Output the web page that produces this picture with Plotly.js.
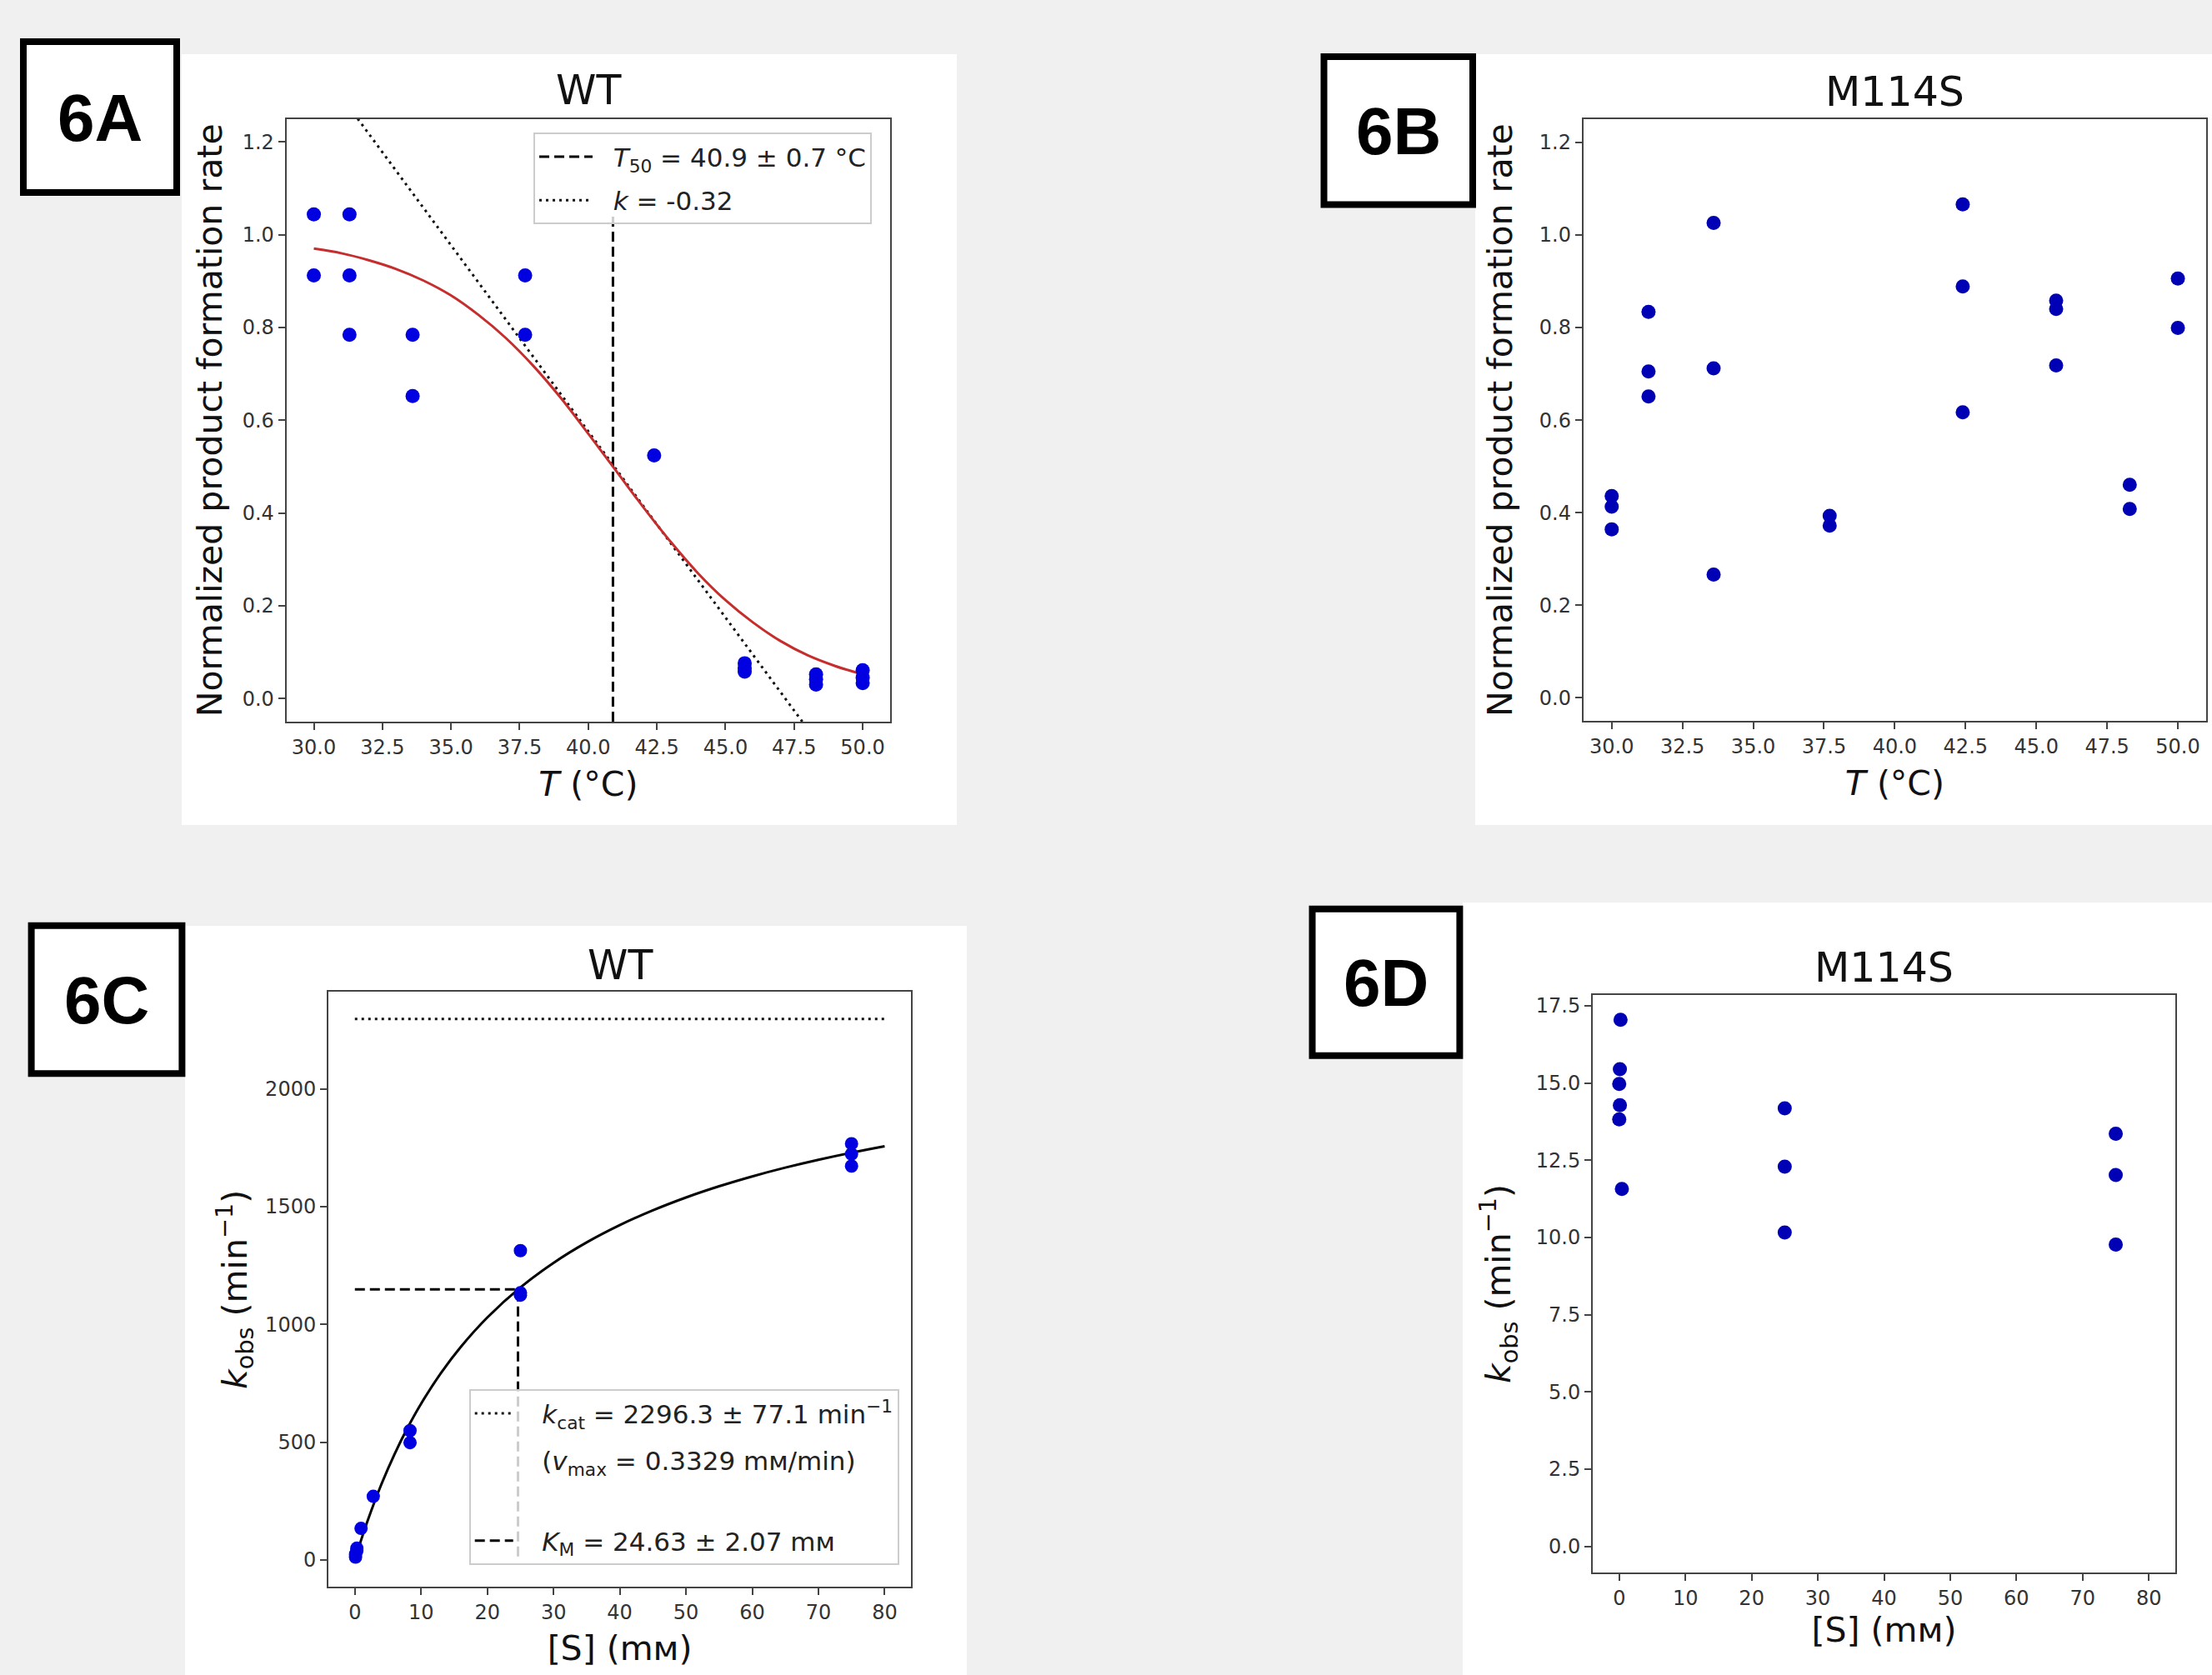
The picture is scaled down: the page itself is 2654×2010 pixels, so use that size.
<!DOCTYPE html>
<html>
<head>
<meta charset="utf-8">
<script src="https://cdn.plot.ly/plotly-3.0.1.min.js"></script>
<style>html,body{margin:0;padding:0;background:#f0f0f0;}#chart{width:2654px;height:2010px;}</style>
</head>
<body>
<div id="chart"></div>
<script>
// ---------------- DATA ----------------
// Panel 6A (WT) – temperature dependence
const tempA = [30, 30, 31.3, 31.3, 31.3, 33.6, 33.6, 37.7, 37.7, 42.4, 45.7, 45.7, 45.7, 48.3, 48.3, 48.3, 50, 50, 50];
const rateA = [1.044, 0.912, 1.044, 0.912, 0.784, 0.784, 0.652, 0.912, 0.784, 0.524, 0.076, 0.066, 0.058, 0.052, 0.041, 0.030, 0.061, 0.045, 0.033];
// fitted sigmoid curve
const fitT = [30, 31, 32, 33, 34, 35, 36, 37, 38, 39, 40, 41, 42, 43, 44, 45, 46, 47, 48, 49, 50];
const fitRate = [0.970, 0.960, 0.945, 0.926, 0.901, 0.869, 0.827, 0.777, 0.717, 0.648, 0.571, 0.492, 0.413, 0.338, 0.270, 0.212, 0.164, 0.124, 0.093, 0.070, 0.052];
// tangent (dotted) line at T50
const tangentT = [31.6, 47.8];
const tangentRate = [1.25, -0.05];
const T50 = 40.9;
const T50lineRate = [-0.05, 1.045];

// Panel 6B (M114S)
const tempB = [30, 30, 30, 31.3, 31.3, 31.3, 33.6, 33.6, 33.6, 37.7, 37.7, 42.4, 42.4, 42.4, 45.7, 45.7, 45.7, 48.3, 48.3, 50, 50];
const rateB = [0.436, 0.413, 0.364, 0.834, 0.705, 0.651, 1.026, 0.712, 0.266, 0.393, 0.372, 1.066, 0.889, 0.617, 0.858, 0.840, 0.718, 0.460, 0.408, 0.906, 0.799];

// Panel 6C (WT) – Michaelis–Menten
const substrateC = [0.1, 0.1, 0.3, 0.3, 0.93, 2.78, 8.33, 8.33, 25, 25, 25, 75, 75, 75];
const kobsC = [12, 25, 40, 50, 134, 270, 549, 498, 1313, 1134, 1124, 1767, 1723, 1672];
// fitted Michaelis–Menten curve
const mmS = [0, 1, 2, 4, 6, 8, 10, 13, 16, 20, 25, 30, 35, 40, 45, 50, 55, 60, 65, 70, 75, 80];
const mmK = [0, 89.6, 172.5, 320.8, 449.8, 563.0, 663.1, 793.3, 904.3, 1029.0, 1156.7, 1261.0, 1347.8, 1421.2, 1484.0, 1538.5, 1586.1, 1628.0, 1665.3, 1698.6, 1728.6, 1755.8];
const KCAT = 2296.3;
const KM = 24.63;
const kcatSpan = [0, 80];

// Panel 6D (M114S)
const substrateD = [0.2, 0.1, 0.0, 0.1, 0.0, 0.4, 25, 25, 25, 75, 75, 75];
const kobsD = [17.05, 15.45, 14.97, 14.28, 13.82, 11.57, 14.18, 12.29, 10.16, 13.36, 12.02, 9.77];

// Tick values
const tickT = [30, 32.5, 35, 37.5, 40, 42.5, 45, 47.5, 50];
const tickRate = [0, 0.2, 0.4, 0.6, 0.8, 1.0, 1.2];
const tickS = [0, 10, 20, 30, 40, 50, 60, 70, 80];
const tickKobsC = [0, 500, 1000, 1500, 2000];
const tickKobsD = [0, 2.5, 5, 7.5, 10, 12.5, 15, 17.5];

// Texts
const titleA = 'WT', titleB = 'M114S', titleC = 'WT', titleD = 'M114S';
const yTitleRate = 'Normalized product formation rate';
const xTitleT = '<i>T</i> (°C)';
const xTitleS = '[S] (mᴍ)';
const yTitleK = '<i>k</i><sub>obs</sub> (min<sup>−1</sup>)';
const padA = '\u00a0\u00a0';
const padC = '\u00a0\u00a0\u00a0';
const legT50 = padA + '<i>T</i><sub>50</sub> = 40.9 ± 0.7 °C';
const legK = padA + '<i>k</i> = -0.32';
const legKcat = padC + '<i>k</i><sub>cat</sub> = 2296.3 ± 77.1 min<sup>−1</sup>';
const legVmax = padC + '(<i>v</i><sub>max</sub> = 0.3329 mᴍ/min)<br>\u00a0';
const legKM = padC + '<i>K</i><sub>M</sub> = 24.63 ± 2.07 mᴍ';

// ---------------- LAYOUT HELPERS ----------------
const W = 2654, H = 2010;
const fx = v => v / W;
const fy = v => 1 - v / H;
const FONT = 'DejaVu Sans, Verdana, sans-serif';
const BLUE1 = '#0000e0', BLUE2 = '#0000b4';

function axisBase(extra) {
  return Object.assign({
    showline: true, mirror: true, linecolor: '#444', linewidth: 2,
    ticks: 'outside', ticklen: 8, tickwidth: 2, tickcolor: '#444',
    showgrid: false, zeroline: false,
    tickfont: {family: FONT, size: 24, color: '#333'},
    fixedrange: true
  }, extra);
}

const traces = [
  // Panel A
  {x: [T50, T50], y: T50lineRate, xaxis: 'x', yaxis: 'y', mode: 'lines', name: legT50,
   line: {color: 'black', width: 3, dash: '12px,6px'}, legend: 'legend', legendgroup: 'a1', showlegend: true},
  {x: tangentT, y: tangentRate, xaxis: 'x', yaxis: 'y', mode: 'lines', name: legK,
   line: {color: '#111', width: 3, dash: '3px,5px'}, legend: 'legend', legendgroup: 'a2', showlegend: true},
  {x: fitT, y: fitRate, xaxis: 'x', yaxis: 'y', mode: 'lines', line: {color: '#c62d2d', width: 3, shape: 'spline'}, showlegend: false},
  {x: tempA, y: rateA, xaxis: 'x', yaxis: 'y', mode: 'markers', marker: {color: BLUE1, size: 17}, showlegend: false},
  // Panel B
  {x: tempB, y: rateB, xaxis: 'x2', yaxis: 'y2', mode: 'markers', marker: {color: BLUE2, size: 17}, showlegend: false},
  // Panel C
  {x: kcatSpan, y: [KCAT, KCAT], xaxis: 'x3', yaxis: 'y3', mode: 'lines', name: legKcat,
   line: {color: '#111', width: 3, dash: '3px,5px'}, legend: 'legend2', legendgroup: 'c1', showlegend: true},
  {x: [null], y: [null], xaxis: 'x3', yaxis: 'y3', mode: 'lines', name: legVmax,
   line: {color: 'rgba(0,0,0,0)', width: 0}, legend: 'legend2', legendgroup: 'c2', showlegend: true, hoverinfo: 'skip'},
  {x: [0, KM, KM], y: [KCAT / 2, KCAT / 2, 0], xaxis: 'x3', yaxis: 'y3', mode: 'lines', name: legKM,
   line: {color: 'black', width: 3, dash: '12px,6px'}, legend: 'legend2', legendgroup: 'c3', showlegend: true},
  {x: mmS, y: mmK, xaxis: 'x3', yaxis: 'y3', mode: 'lines', line: {color: 'black', width: 3, shape: 'spline'}, showlegend: false},
  {x: substrateC, y: kobsC, xaxis: 'x3', yaxis: 'y3', mode: 'markers', marker: {color: BLUE1, size: 16}, showlegend: false},
  // Panel D
  {x: substrateD, y: kobsD, xaxis: 'x4', yaxis: 'y4', mode: 'markers', marker: {color: BLUE2, size: 17}, showlegend: false}
];

const axisTitleFont = {family: FONT, size: 41, color: '#111'};

const layout = {
  width: W, height: H,
  margin: {l: 0, r: 0, t: 0, b: 0},
  paper_bgcolor: '#f0f0f0',
  plot_bgcolor: 'white',
  font: {family: FONT},
  xaxis: axisBase({domain: [fx(343.6), fx(1068)], anchor: 'y', range: [29, 51], tickmode: 'array', tickvals: tickT,
    ticktext: tickT.map(v => v.toFixed(1)), title: {text: xTitleT, font: axisTitleFont, standoff: 17}}),
  yaxis: axisBase({domain: [fy(866), fy(142.5)], anchor: 'x', range: [-0.05, 1.25], tickmode: 'array', tickvals: tickRate,
    ticktext: tickRate.map(v => v.toFixed(1)), title: {text: yTitleRate, font: axisTitleFont, standoff: 11}}),
  xaxis2: axisBase({domain: [fx(1899.8), fx(2647)], anchor: 'y2', range: [29, 51], tickmode: 'array', tickvals: tickT,
    ticktext: tickT.map(v => v.toFixed(1)), title: {text: xTitleT, font: axisTitleFont, standoff: 17}}),
  yaxis2: axisBase({domain: [fy(865), fy(143.2)], anchor: 'x2', range: [-0.05, 1.25], tickmode: 'array', tickvals: tickRate,
    ticktext: tickRate.map(v => v.toFixed(1)), title: {text: yTitleRate, font: axisTitleFont, standoff: 19}}),
  xaxis3: axisBase({domain: [fx(394), fx(1093.2)], anchor: 'y3', range: [-4, 84], tickmode: 'array', tickvals: tickS,
    ticktext: tickS.map(String), title: {text: xTitleS, font: axisTitleFont, standoff: 15}}),
  yaxis3: axisBase({domain: [fy(1904.4), fy(1190.3)], anchor: 'x3', range: [-114.8, 2411.1], tickmode: 'array', tickvals: tickKobsC,
    ticktext: tickKobsC.map(String), title: {text: yTitleK, font: axisTitleFont, standoff: 9}}),
  xaxis4: axisBase({domain: [fx(1911), fx(2610)], anchor: 'y4', range: [-4, 84], tickmode: 'array', tickvals: tickS,
    ticktext: tickS.map(String), title: {text: xTitleS, font: axisTitleFont, standoff: 6}}),
  yaxis4: axisBase({domain: [fy(1887), fy(1194)], anchor: 'x4', range: [-0.85, 17.85], tickmode: 'array', tickvals: tickKobsD,
    ticktext: tickKobsD.map(v => v.toFixed(1)), title: {text: yTitleK, font: axisTitleFont, standoff: 17}}),
  legend: {x: fx(640), y: fy(159.3), xanchor: 'left', yanchor: 'top', bgcolor: 'rgba(255,255,255,0.8)',
    bordercolor: '#cccccc', borderwidth: 2, font: {family: FONT, size: 31, color: '#222'},
    itemwidth: 64, tracegroupgap: 9, traceorder: 'grouped'},
  legend2: {x: fx(562.7), y: fy(1667.3), xanchor: 'left', yanchor: 'top', bgcolor: 'rgba(255,255,255,0.8)',
    bordercolor: '#cccccc', borderwidth: 2, font: {family: FONT, size: 31, color: '#222'},
    itemwidth: 46, tracegroupgap: 13, traceorder: 'grouped'},
  shapes: [
    // white panel backgrounds
    {type: 'rect', xref: 'paper', yref: 'paper', x0: fx(218), x1: fx(1148), y0: fy(990), y1: fy(65), fillcolor: 'white', line: {width: 0}, layer: 'below'},
    {type: 'rect', xref: 'paper', yref: 'paper', x0: fx(1770), x1: fx(2654), y0: fy(990), y1: fy(65), fillcolor: 'white', line: {width: 0}, layer: 'below'},
    {type: 'rect', xref: 'paper', yref: 'paper', x0: fx(222), x1: fx(1160), y0: fy(2010), y1: fy(1111), fillcolor: 'white', line: {width: 0}, layer: 'below'},
    {type: 'rect', xref: 'paper', yref: 'paper', x0: fx(1755), x1: fx(2654), y0: fy(2010), y1: fy(1083), fillcolor: 'white', line: {width: 0}, layer: 'below'},
    // label boxes
    {type: 'rect', xref: 'paper', yref: 'paper', x0: fx(28), x1: fx(212), y0: fy(231), y1: fy(50), fillcolor: 'white', line: {color: 'black', width: 8}},
    {type: 'rect', xref: 'paper', yref: 'paper', x0: fx(1588.5), x1: fx(1767), y0: fy(245.5), y1: fy(68), fillcolor: 'white', line: {color: 'black', width: 8}},
    {type: 'rect', xref: 'paper', yref: 'paper', x0: fx(37.6), x1: fx(218.4), y0: fy(1288.3), y1: fy(1110.7), fillcolor: 'white', line: {color: 'black', width: 8}},
    {type: 'rect', xref: 'paper', yref: 'paper', x0: fx(1574.5), x1: fx(1751.4), y0: fy(1266.8), y1: fy(1090.8), fillcolor: 'white', line: {color: 'black', width: 8}}
  ],
  annotations: [
    {text: titleA, xref: 'paper', yref: 'paper', x: fx(706), y: fy(108), xanchor: 'center', yanchor: 'middle', showarrow: false, font: {family: FONT, size: 49, color: '#111'}},
    {text: titleB, xref: 'paper', yref: 'paper', x: fx(2273), y: fy(111), xanchor: 'center', yanchor: 'middle', showarrow: false, font: {family: FONT, size: 49, color: '#111'}},
    {text: titleC, xref: 'paper', yref: 'paper', x: fx(744), y: fy(1158), xanchor: 'center', yanchor: 'middle', showarrow: false, font: {family: FONT, size: 49, color: '#111'}},
    {text: titleD, xref: 'paper', yref: 'paper', x: fx(2260), y: fy(1161), xanchor: 'center', yanchor: 'middle', showarrow: false, font: {family: FONT, size: 49, color: '#111'}},
    {text: '<b>6A</b>', xref: 'paper', yref: 'paper', x: fx(120), y: fy(141), xanchor: 'center', yanchor: 'middle', showarrow: false, font: {family: 'Liberation Sans, Arial, sans-serif', size: 80, color: 'black'}},
    {text: '<b>6B</b>', xref: 'paper', yref: 'paper', x: fx(1678), y: fy(157), xanchor: 'center', yanchor: 'middle', showarrow: false, font: {family: 'Liberation Sans, Arial, sans-serif', size: 80, color: 'black'}},
    {text: '<b>6C</b>', xref: 'paper', yref: 'paper', x: fx(128), y: fy(1200), xanchor: 'center', yanchor: 'middle', showarrow: false, font: {family: 'Liberation Sans, Arial, sans-serif', size: 80, color: 'black'}},
    {text: '<b>6D</b>', xref: 'paper', yref: 'paper', x: fx(1663), y: fy(1179), xanchor: 'center', yanchor: 'middle', showarrow: false, font: {family: 'Liberation Sans, Arial, sans-serif', size: 80, color: 'black'}}
  ]
};

Plotly.newPlot('chart', traces, layout, {displayModeBar: false, staticPlot: true});
</script>
</body>
</html>
